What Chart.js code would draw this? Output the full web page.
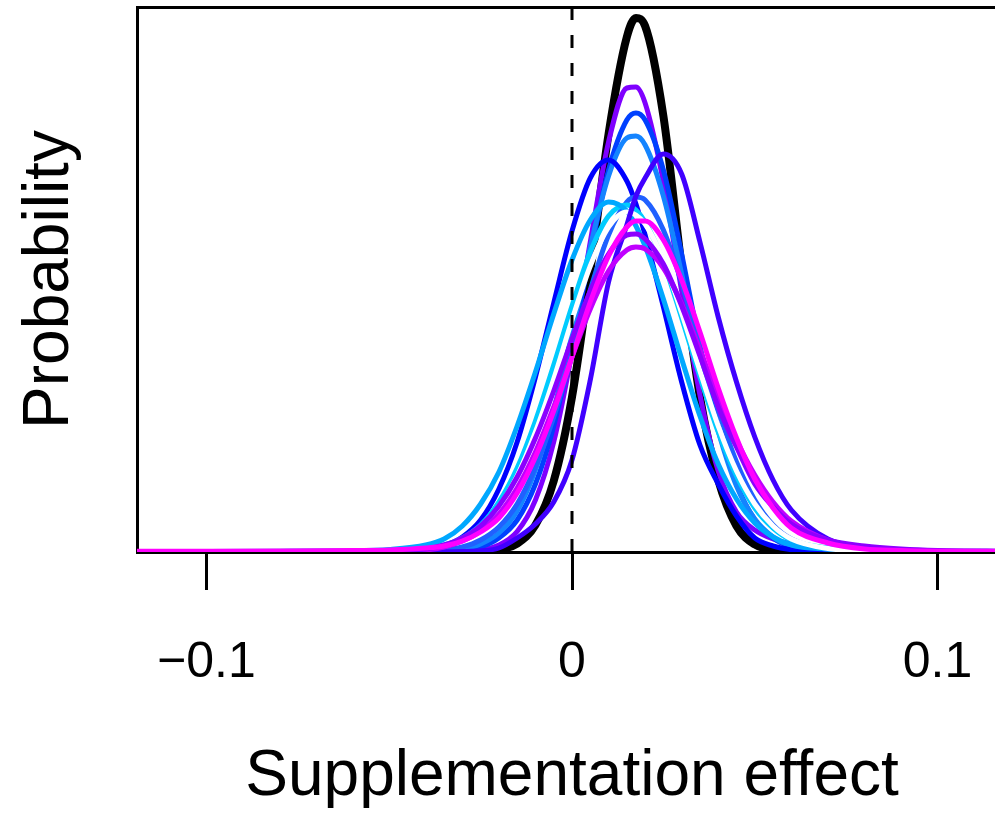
<!DOCTYPE html>
<html>
<head>
<meta charset="utf-8">
<title>Supplementation effect</title>
<script src="https://cdn.jsdelivr.net/npm/chart.js@4.4.1/dist/chart.umd.min.js"></script>
<style>
    html, body { margin: 0; padding: 0; background: #ffffff; overflow: hidden; }
    /* plot box runs a little past the right edge of the window, as in the figure */
    #wrap { width: 1007px; height: 816px; position: relative; }
</style>
</head>
<body>
<div id="wrap"><canvas id="densityChart"></canvas></div>
<script>
// Posterior densities of the supplementation effect

// shared x grid
const effectGrid = [-0.12, -0.1, -0.08, -0.06, -0.05, -0.04, -0.035, -0.03, -0.025, -0.02, -0.015, -0.01, -0.005, 0,
    0.005, 0.01, 0.015, 0.0175, 0.02, 0.025, 0.03, 0.035, 0.04, 0.045, 0.05, 0.055, 0.06, 0.07, 0.08, 0.09, 0.1, 0.12];

const tickValues = [-0.1, 0, 0.1];
const xMin = -0.119;
const xMax = 0.119;
const yMax = 54.5;
const zeroLineX = 0;

// density series
const magentaDensity = [0.08, 0.08, 0.1, 0.15, 0.2, 0.4, 0.6, 1.1, 2.0, 3.4, 5.9, 9.5, 14.1, 19.5, 25.0, 29.6, 32.5, 33.1, 33.1, 31.2, 27.2, 22.0, 16.4, 11.4, 7.3, 4.4, 2.4, 0.9, 0.3, 0.15, 0.08, 0.05];
const purpleLowDensity = [0.03, 0.03, 0.04, 0.06, 0.1, 0.3, 0.7, 1.4, 2.6, 4.6, 7.5, 11.4, 16.1, 21.3, 26.1, 29.8, 31.7, 31.8, 31.3, 28.8, 24.6, 19.6, 14.5, 10.5, 6.8, 4.5, 2.8, 1.2, 0.6, 0.3, 0.15, 0.08];
const violetDensity = [0.02, 0.02, 0.03, 0.05, 0.08, 0.2, 0.5, 1.1, 2.1, 3.8, 6.4, 10.0, 14.5, 19.5, 24.3, 28.1, 30.2, 30.5, 30.3, 28.4, 24.8, 20.2, 15.5, 11.2, 7.7, 5.0, 3.1, 1.2, 0.5, 0.2, 0.1, 0.06];
const blueVioletDensity = [0.02, 0.02, 0.02, 0.02, 0.02, 0.02, 0.03, 0.05, 0.12, 0.4, 1.4, 2.8, 5.0, 9.2, 17.2, 27.0, 32.7, 35.6, 37.4, 39.8, 37.8, 31.0, 23.5, 17.0, 11.5, 7.2, 4.2, 1.3, 0.4, 0.15, 0.08, 0.05];
const whiteDensity = [0.02, 0.02, 0.03, 0.05, 0.1, 0.3, 0.55, 1.2, 2.4, 4.5, 7.6, 12.0, 17.3, 23.2, 28.6, 32.5, 34.0, 33.7, 32.8, 29.2, 23.9, 18.1, 12.6, 8.1, 4.8, 2.6, 1.3, 0.35, 0.1, 0.03, 0.02, 0.02];
const skyBlueDensity = [0.05, 0.06, 0.08, 0.12, 0.25, 0.7, 1.3, 2.6, 4.8, 8.0, 12.6, 18.0, 23.8, 29.2, 33.2, 35.0, 34.1, 32.6, 30.6, 25.3, 19.3, 13.6, 8.8, 5.3, 2.9, 1.5, 0.7, 0.3, 0.1, 0.05, 0.03, 0.02];
const cyanDensity = [0.03, 0.04, 0.06, 0.1, 0.15, 0.4, 0.7, 1.4, 2.7, 5.0, 8.4, 13.1, 18.7, 24.6, 30.0, 33.6, 34.7, 34.2, 33.0, 29.0, 23.4, 17.5, 12.0, 7.6, 4.4, 2.4, 1.2, 0.4, 0.15, 0.05, 0.03, 0.02];
const royalBlueDensity = [0.02, 0.02, 0.02, 0.02, 0.03, 0.07, 0.2, 0.5, 1.2, 2.5, 4.8, 8.5, 13.5, 19.7, 26.2, 31.7, 35.0, 35.5, 35.2, 32.2, 26.9, 20.4, 14.2, 9.0, 5.2, 2.7, 1.3, 0.25, 0.05, 0.03, 0.02, 0.02];
const blueDensity = [0.02, 0.02, 0.02, 0.03, 0.05, 0.24, 0.6, 1.5, 3.2, 6.3, 11.0, 17.5, 24.9, 32.1, 37.4, 39.2, 37.1, 34.8, 31.7, 24.5, 17.0, 10.7, 6.8, 3.6, 1.4, 0.6, 0.23, 0.05, 0.02, 0.02, 0.02, 0.02];
const dodgerDensity = [0.02, 0.02, 0.02, 0.03, 0.04, 0.06, 0.09, 0.28, 0.8, 1.9, 4.1, 8.2, 14.2, 22.0, 30.5, 37.6, 41.4, 41.6, 40.7, 35.6, 27.8, 19.3, 12.1, 6.6, 3.3, 1.5, 0.6, 0.15, 0.05, 0.03, 0.02, 0.02];
const mediumBlueDensity = [0.02, 0.02, 0.02, 0.02, 0.03, 0.04, 0.05, 0.16, 0.5, 1.4, 3.2, 6.8, 12.6, 20.6, 29.8, 38.2, 43.2, 43.9, 43.2, 38.2, 29.8, 20.6, 12.6, 6.8, 3.2, 1.4, 0.5, 0.1, 0.03, 0.02, 0.02, 0.02];
const purpleHighDensity = [0.02, 0.02, 0.02, 0.02, 0.02, 0.03, 0.04, 0.05, 0.2, 0.7, 2.05, 5.2, 11.0, 20.0, 31.0, 41.0, 46.4, 46.5, 44.9, 37.0, 26.1, 15.7, 8.1, 4.0, 2.2, 1.3, 0.8, 0.4, 0.2, 0.1, 0.05, 0.03];
// pooled estimate (black), only drawn over its own range
const pooledDensity = [null, null, null, null, null, null, 0.1, 0.1, 0.15, 0.25, 0.84, 2.7, 7.1, 15.5, 28.0, 41.8, 51.5, 53.4, 52.6, 43.6, 28.5, 15.5, 7.2, 2.6, 0.75, 0.2, 0.1, 0.1, null, null, null, null];

// draw order follows the figure, black last
const seriesList = [
    { name: 'magenta', values: magentaDensity, color: '#ff00ff' },
    { name: 'purple low', values: purpleLowDensity, color: '#8c00ff' },
    { name: 'violet', values: violetDensity, color: '#c000ff' },
    { name: 'blue violet', values: blueVioletDensity, color: '#4000ff' },
    { name: 'white', values: whiteDensity, color: '#ffffff' },
    { name: 'sky blue', values: skyBlueDensity, color: '#00a8ff' },
    { name: 'cyan', values: cyanDensity, color: '#00ccff' },
    { name: 'royal blue', values: royalBlueDensity, color: '#2060ff' },
    { name: 'blue', values: blueDensity, color: '#0000ff' },
    { name: 'dodger blue', values: dodgerDensity, color: '#1484ff' },
    { name: 'medium blue', values: mediumBlueDensity, color: '#0040ff' },
    { name: 'purple high', values: purpleHighDensity, color: '#7f00ff' },
    { name: 'pooled', values: pooledDensity, color: '#000000', width: 8 }
];

function toPoints(values) {
    return effectGrid.map((x, i) => ({ x: x, y: values[i] }));
}

function formatTick(value) {
    if (value === 0) return '0';
    return value < 0 ? '\u2212' + Math.abs(value) : String(value);
}

function buildDatasets() {
    const datasets = [];

    // dashed reference line at zero
    datasets.push({
        label: 'zero',
        data: [{ x: zeroLineX, y: yMax }, { x: zeroLineX, y: 0 }],
        borderColor: '#000000',
        borderWidth: 3,
        borderDash: [13, 15],
        pointRadius: 0,
        tension: 0
    });

    seriesList.forEach(s => {
        datasets.push({
            label: s.name,
            data: toPoints(s.values),
            borderColor: s.color,
            borderWidth: s.width || 5,
            pointRadius: 0,
            cubicInterpolationMode: 'monotone',
            spanGaps: false,
            fill: false
        });
    });

    return datasets;
}

const fontFamily = '"Liberation Sans", Arial, Helvetica, sans-serif';

const ctx = document.getElementById('densityChart');
new Chart(ctx, {
    type: 'line',
    data: { datasets: buildDatasets() },
    options: {
        responsive: true,
        maintainAspectRatio: false,
        animation: false,
        events: [],
        layout: { padding: 0 },
        plugins: {
            legend: { display: false },
            tooltip: { enabled: false }
        },
        scales: {
            x: {
                type: 'linear',
                position: 'bottom',
                min: xMin,
                max: xMax,
                afterBuildTicks: scale => {
                    scale.ticks = tickValues.map(v => ({ value: v }));
                },
                afterFit: scale => {
                    // fixed height, and no extra side padding for the tick labels
                    scale.height = 264;
                    scale.paddingLeft = 0;
                    scale.paddingRight = 0;
                },
                ticks: {
                    color: '#000000',
                    font: { family: fontFamily, size: 50 },
                    padding: 43,
                    maxRotation: 0,
                    autoSkip: false,
                    callback: value => formatTick(value)
                },
                grid: {
                    display: true,
                    drawOnChartArea: false,
                    drawTicks: true,
                    tickLength: 38,
                    tickWidth: 3,
                    tickColor: '#000000',
                    color: '#000000',
                    lineWidth: 3
                },
                border: { display: true, color: '#000000', width: 3 },
                title: {
                    display: true,
                    text: 'Supplementation effect',
                    color: '#000000',
                    font: { family: fontFamily, size: 64, lineHeight: 1.2 },
                    padding: { top: 0, bottom: 0 }
                }
            },
            xTop: {
                type: 'linear',
                position: 'top',
                min: xMin,
                max: xMax,
                afterFit: scale => {
                    scale.height = 7;
                    scale.paddingLeft = 0;
                    scale.paddingRight = 0;
                },
                ticks: { display: false },
                grid: { display: false, drawTicks: false },
                border: { display: true, color: '#000000', width: 3 }
            },
            y: {
                type: 'linear',
                min: 0,
                max: yMax,
                afterFit: scale => { scale.width = 137; },
                ticks: { display: false },
                grid: { display: false, drawTicks: false },
                border: { display: true, color: '#000000', width: 3 },
                title: {
                    display: true,
                    text: 'Probability',
                    color: '#000000',
                    font: { family: fontFamily, size: 64, lineHeight: 1.2 },
                    padding: { top: 12, bottom: 0 }
                }
            }
        }
    }
});
</script>
</body>
</html>
